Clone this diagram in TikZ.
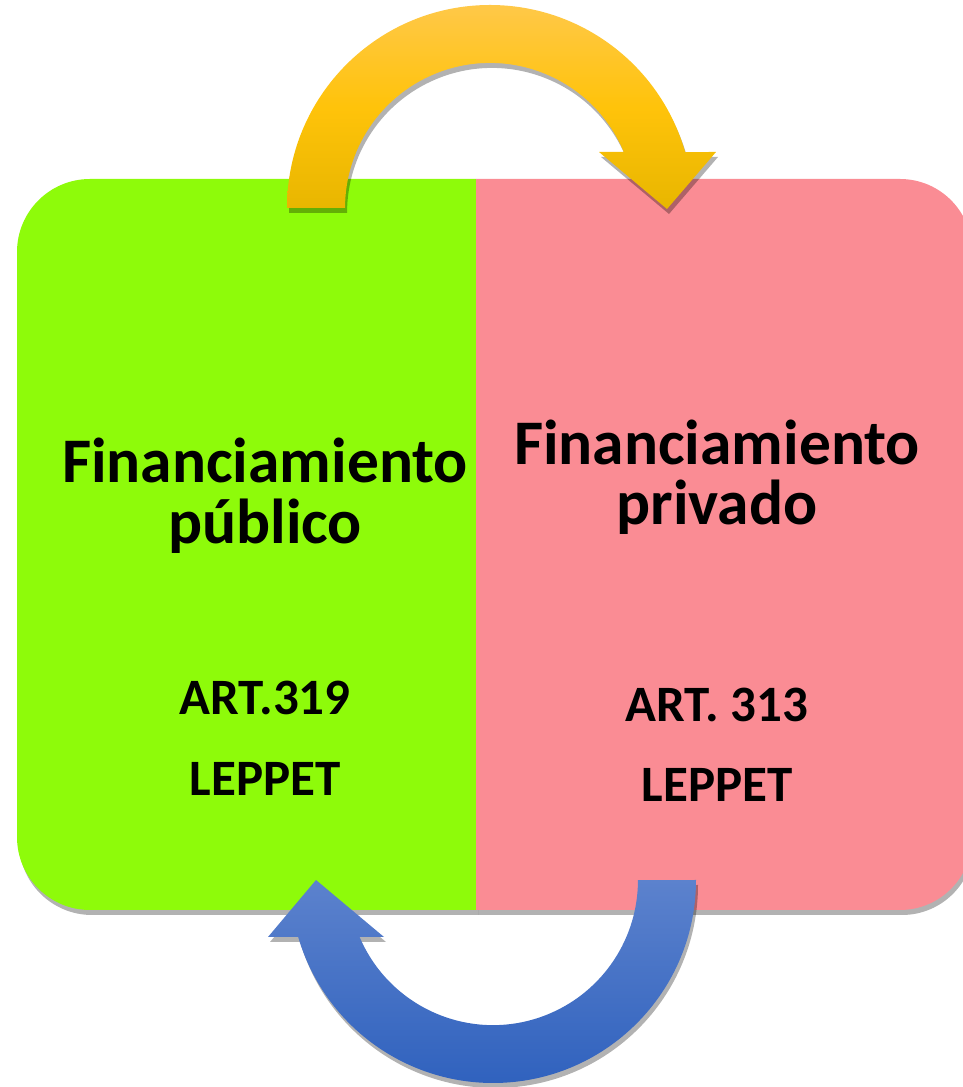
\documentclass[tikz,border=0pt]{standalone}
\usepackage{fontspec}
\setmainfont{Carlito}
\usetikzlibrary{shadows}
\definecolor{boxgreen}{RGB}{142,251,10}
\definecolor{boxpink}{RGB}{250,140,148}
\definecolor{yelTop}{RGB}{255,200,72}
\definecolor{yelMid}{RGB}{255,195,10}
\definecolor{yelBot}{RGB}{232,182,0}
\definecolor{bluTop}{RGB}{92,130,205}
\definecolor{bluBot}{RGB}{48,98,190}
\begin{document}
\begin{tikzpicture}[x=1pt,y=1pt,
  softshadow/.style={drop shadow={shadow xshift=2pt,shadow yshift=-5pt,opacity=0.3,fill=black}},
  titletext/.style={anchor=base,inner sep=0pt,font=\fontsize{63.5}{70}\selectfont\bfseries},
  reftext/.style={anchor=base,inner sep=0pt,font=\fontsize{51}{60}\selectfont\bfseries},
  yellowarrow/.style={top color=yelTop,bottom color=yelBot,middle color=yelMid,softshadow},
  bluearrow/.style={top color=bluTop,bottom color=bluBot,softshadow}
]
\useasboundingbox (0,0) rectangle (962,1087);
% boxes
\fill[boxgreen,softshadow] (476,908) -- (90,908) arc[start angle=90,end angle=180,radius=73]
  -- (17,250) arc[start angle=180,end angle=270,radius=73] -- (476,177) -- cycle;
\fill[boxpink,softshadow] (476,908) -- (900,908) arc[start angle=90,end angle=0,radius=72]
  -- (972,249) arc[start angle=0,end angle=-90,radius=72] -- (476,177) -- cycle;
% top arrow
\path[yellowarrow] (287,879) arc[start angle=180,end angle=16,radius=203]
  -- (716,935) -- (667,878) -- (599,935) -- (623.8,935)
  arc[start angle=22.7,end angle=180,radius=145] -- cycle;
% bottom arrow
\path[bluearrow] (696,207) arc[start angle=0,end angle=-163.7,radius=203]
  -- (268,150) -- (316,207) -- (384,150) -- (359.6,150)
  arc[start angle=-156.9,end angle=0,radius=145] -- cycle;
% texts
\node[titletext] (lt1) at (265,604) {Financiamiento};
\node[titletext] (lt2) at (265,543) {público};
\node[titletext] (rt1) at (717,622) {Financiamiento};
\node[titletext] (rt2) at (717,562) {privado};
\node[reftext] (lr1) at (265,372) {ART.319};
\node[reftext] (lr2) at (265,291) {LEPPET};
\node[reftext] (rr1) at (717,365) {ART. 313};
\node[reftext] (rr2) at (717,285) {LEPPET};
\end{tikzpicture}
\end{document}
